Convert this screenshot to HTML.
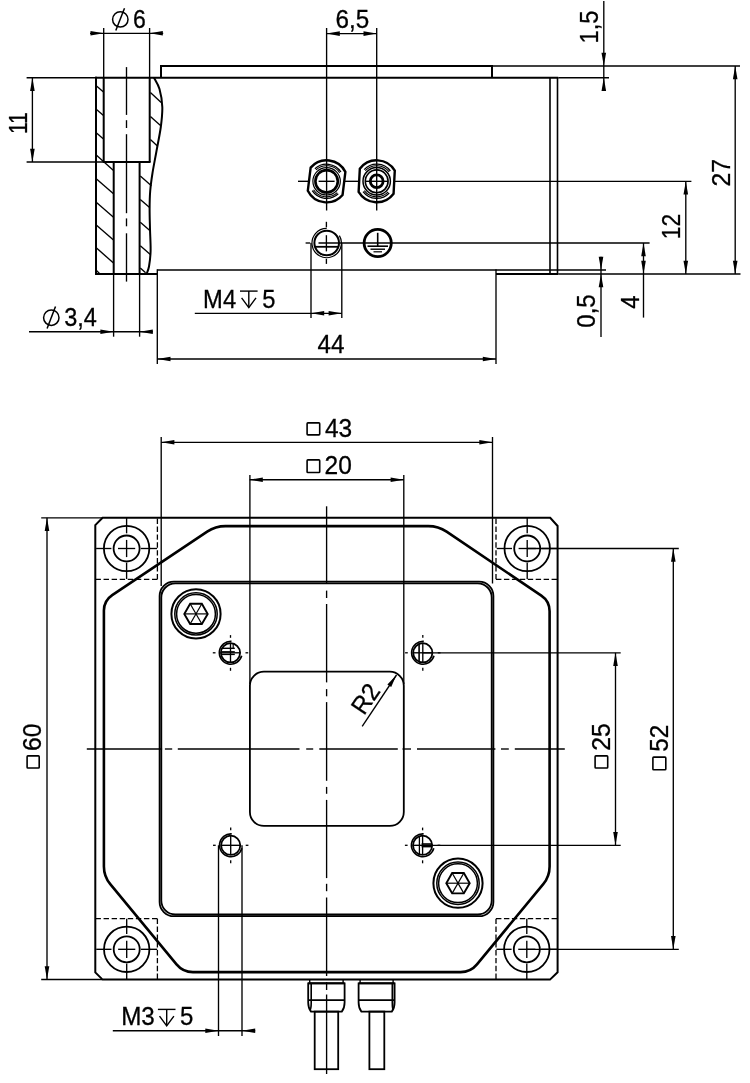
<!DOCTYPE html>
<html><head><meta charset="utf-8"><style>
html,body{margin:0;padding:0;background:#fff;width:750px;height:1083px;overflow:hidden}
svg{display:block;will-change:transform}
text{font-family:"Liberation Sans",sans-serif;fill:#000;stroke:#000;stroke-width:0.3px}
</style></head><body>
<svg width="750" height="1083" viewBox="0 0 750 1083" stroke="#000" stroke-linecap="butt">
<path d="M161,77.7V66H492V77.7" stroke-width="2" fill="none"/>
<line x1="95.1" y1="77.7" x2="558.3" y2="77.7" stroke-width="2"/>
<line x1="558.3" y1="77.7" x2="609" y2="77.7" stroke-width="1.35"/>
<line x1="492" y1="66" x2="740" y2="66" stroke-width="1.35"/>
<line x1="96" y1="76.8" x2="96" y2="274.8" stroke-width="2"/>
<line x1="95.1" y1="274" x2="157.3" y2="274" stroke-width="2"/>
<line x1="103.7" y1="77.7" x2="103.7" y2="162" stroke-width="2"/>
<line x1="149.7" y1="77.7" x2="149.7" y2="162" stroke-width="2"/>
<line x1="102.8" y1="162" x2="150.6" y2="162" stroke-width="2"/>
<line x1="113.7" y1="162" x2="113.7" y2="274" stroke-width="2"/>
<line x1="139.6" y1="162" x2="139.6" y2="274" stroke-width="2"/>
<path d="M154,77.7C154.92,79.58 158.12,84.12 159.5,89C160.88,93.88 162.08,100.67 162.3,107C162.52,113.33 161.77,119.67 160.8,127C159.83,134.33 157.88,143.33 156.5,151C155.12,158.67 153.55,166.33 152.5,173C151.45,179.67 150.68,185 150.2,191C149.72,197 149.63,202.67 149.6,209C149.57,215.33 149.83,222 150,229C150.17,236 150.77,244.75 150.6,251C150.43,257.25 149.68,262.67 149,266.5C148.32,270.33 146.92,272.75 146.5,274" stroke-width="2" fill="none"/>
<line x1="96.5" y1="86" x2="103.5" y2="92.1" stroke-width="1.35"/>
<line x1="96.5" y1="109.5" x2="103.5" y2="115.6" stroke-width="1.35"/>
<line x1="96.5" y1="133" x2="103.5" y2="139.1" stroke-width="1.35"/>
<line x1="96.5" y1="155.3" x2="113.5" y2="170.4" stroke-width="1.35"/>
<line x1="96.5" y1="179" x2="113.5" y2="193.8" stroke-width="1.35"/>
<line x1="96.5" y1="202.4" x2="113.5" y2="217.2" stroke-width="1.35"/>
<line x1="96.5" y1="225.3" x2="113.5" y2="240.1" stroke-width="1.35"/>
<line x1="96.5" y1="248.1" x2="113.5" y2="262.9" stroke-width="1.35"/>
<line x1="96.5" y1="270.6" x2="99.5" y2="273.4" stroke-width="1.35"/>
<line x1="150.4" y1="92.6" x2="161.2" y2="102.6" stroke-width="1.35"/>
<line x1="150.4" y1="116.6" x2="160.5" y2="125.6" stroke-width="1.35"/>
<line x1="150.4" y1="139.6" x2="157.4" y2="145.9" stroke-width="1.35"/>
<line x1="140.3" y1="176" x2="151.4" y2="185.66" stroke-width="1.35"/>
<line x1="140.3" y1="199.4" x2="149.6" y2="207.49" stroke-width="1.35"/>
<line x1="140.3" y1="222.3" x2="149.8" y2="230.56" stroke-width="1.35"/>
<line x1="140.3" y1="245.7" x2="150.6" y2="254.66" stroke-width="1.35"/>
<line x1="140.3" y1="267.9" x2="145.6" y2="272.8" stroke-width="1.35"/>
<line x1="126.5" y1="67.1" x2="126.5" y2="114.9" stroke-width="1.35"/>
<line x1="126.5" y1="120.2" x2="126.5" y2="128" stroke-width="1.35"/>
<line x1="126.5" y1="134.2" x2="126.5" y2="213.2" stroke-width="1.35"/>
<line x1="126.5" y1="218.4" x2="126.5" y2="226.3" stroke-width="1.35"/>
<line x1="126.5" y1="233.3" x2="126.5" y2="281.6" stroke-width="1.35"/>
<line x1="157.3" y1="270" x2="496" y2="270" stroke-width="1.5"/>
<line x1="157.3" y1="269.3" x2="157.3" y2="364" stroke-width="1.35"/>
<line x1="496" y1="269.3" x2="496" y2="364" stroke-width="1.35"/>
<line x1="496" y1="270" x2="606" y2="270" stroke-width="1.35"/>
<line x1="496" y1="274" x2="558.3" y2="274" stroke-width="2"/>
<line x1="558.3" y1="274" x2="740.5" y2="274" stroke-width="1.35"/>
<line x1="550" y1="77.7" x2="550" y2="274" stroke-width="1.6"/>
<line x1="557.5" y1="77.7" x2="557.5" y2="274" stroke-width="1.6"/>
<line x1="603.8" y1="1" x2="603.8" y2="91" stroke-width="1.35"/>
<path d="M603.8,66L606.1,52.8L601.5,52.8Z" fill="#000" stroke="none"/>
<path d="M603.8,77.7L601.5,90.9L606.1,90.9Z" fill="#000" stroke="none"/>
<text x="0" y="0" font-size="25" transform="translate(597.63,43.46) rotate(-90) scale(0.95,1)">1,5</text>
<line x1="735.2" y1="66" x2="735.2" y2="274" stroke-width="1.35"/>
<path d="M735.2,66L732.9,79.2L737.5,79.2Z" fill="#000" stroke="none"/>
<path d="M735.2,274L737.5,260.8L732.9,260.8Z" fill="#000" stroke="none"/>
<text x="0" y="0" font-size="25" transform="translate(729.68,186.5) rotate(-90) scale(0.99,1)">27</text>
<line x1="685.8" y1="181.3" x2="685.8" y2="274" stroke-width="1.35"/>
<path d="M685.8,181.3L683.5,194.5L688.1,194.5Z" fill="#000" stroke="none"/>
<path d="M685.8,274L688.1,260.8L683.5,260.8Z" fill="#000" stroke="none"/>
<text x="0" y="0" font-size="25" transform="translate(679.93,239.18) rotate(-90) scale(0.91,1)">12</text>
<line x1="643.5" y1="243" x2="643.5" y2="317.6" stroke-width="1.35"/>
<path d="M643.5,243L641.2,256.2L645.8,256.2Z" fill="#000" stroke="none"/>
<path d="M643.5,274L645.8,260.8L641.2,260.8Z" fill="#000" stroke="none"/>
<text x="0" y="0" font-size="25" transform="translate(638.6,308.8) rotate(-90) scale(0.95,1)">4</text>
<line x1="305.6" y1="243" x2="310.2" y2="243" stroke-width="1.35"/>
<line x1="318.5" y1="243" x2="649.6" y2="243" stroke-width="1.35"/>
<line x1="601" y1="256.8" x2="601" y2="337" stroke-width="1.35"/>
<path d="M601,270L603.3,256.8L598.7,256.8Z" fill="#000" stroke="none"/>
<path d="M601,274L598.7,287.2L603.3,287.2Z" fill="#000" stroke="none"/>
<text x="0" y="0" font-size="25" transform="translate(594.86,327.69) rotate(-90) scale(0.96,1)">0,5</text>
<line x1="32.4" y1="77.7" x2="32.4" y2="162" stroke-width="1.35"/>
<path d="M32.4,77.7L30.1,90.9L34.7,90.9Z" fill="#000" stroke="none"/>
<path d="M32.4,162L34.7,148.8L30.1,148.8Z" fill="#000" stroke="none"/>
<line x1="26.6" y1="77.7" x2="95.1" y2="77.7" stroke-width="1.35"/>
<line x1="26.6" y1="162" x2="103.7" y2="162" stroke-width="1.35"/>
<text x="0" y="0" font-size="25" transform="translate(26.5,134.11) rotate(-90) scale(0.85,1)">11</text>
<line x1="103.7" y1="28" x2="103.7" y2="77.7" stroke-width="1.35"/>
<line x1="149.6" y1="28" x2="149.6" y2="77.7" stroke-width="1.35"/>
<line x1="90" y1="33.3" x2="163.2" y2="33.3" stroke-width="1.35"/>
<path d="M103.7,33.3L90.5,31L90.5,35.6Z" fill="#000" stroke="none"/>
<path d="M149.6,33.3L162.8,35.6L162.8,31Z" fill="#000" stroke="none"/>
<circle cx="120.3" cy="19.4" r="7.7" stroke-width="1.5" fill="none"/>
<line x1="115.8" y1="30.5" x2="124.5" y2="8.3" stroke-width="1.5"/>
<text x="0" y="0" font-size="25" transform="translate(132.88,27.56) scale(0.92,1)">6</text>
<line x1="326.6" y1="28" x2="326.6" y2="210.5" stroke-width="1.35"/>
<line x1="376.7" y1="28" x2="376.7" y2="210.5" stroke-width="1.35"/>
<line x1="326.6" y1="33.6" x2="376.7" y2="33.6" stroke-width="1.35"/>
<path d="M326.6,33.6L339.8,35.9L339.8,31.3Z" fill="#000" stroke="none"/>
<path d="M376.7,33.6L363.5,31.3L363.5,35.9Z" fill="#000" stroke="none"/>
<text x="0" y="0" font-size="25" transform="translate(335.62,27.56) scale(0.97,1)">6,5</text>
<line x1="113.6" y1="274" x2="113.6" y2="336.7" stroke-width="1.35"/>
<line x1="139.6" y1="274" x2="139.6" y2="336.7" stroke-width="1.35"/>
<line x1="29" y1="331.7" x2="152.8" y2="331.7" stroke-width="1.35"/>
<path d="M113.6,331.7L100.4,329.4L100.4,334Z" fill="#000" stroke="none"/>
<path d="M139.6,331.7L152.8,334L152.8,329.4Z" fill="#000" stroke="none"/>
<circle cx="51.3" cy="317.7" r="7.7" stroke-width="1.5" fill="none"/>
<line x1="47.1" y1="328.5" x2="55.5" y2="306.5" stroke-width="1.5"/>
<text x="0" y="0" font-size="25" transform="translate(64.25,325.86) scale(0.94,1)">3,4</text>
<line x1="311" y1="243" x2="311" y2="318" stroke-width="1.35"/>
<line x1="341.8" y1="243" x2="341.8" y2="318" stroke-width="1.35"/>
<line x1="194.8" y1="313.3" x2="341.8" y2="313.3" stroke-width="1.35"/>
<path d="M311,313.3L324.2,315.6L324.2,311Z" fill="#000" stroke="none"/>
<path d="M341.8,313.3L328.6,311L328.6,315.6Z" fill="#000" stroke="none"/>
<text x="0" y="0" font-size="25" transform="translate(203.1,307.7) scale(0.95,1)">M4</text>
<line x1="240" y1="291.1" x2="257.6" y2="291.1" stroke-width="1.4"/>
<line x1="248.8" y1="291.1" x2="248.8" y2="307.5" stroke-width="1.4"/>
<path d="M241.6,297.8L248.8,307.6L256,297.8" stroke-width="1.4" fill="none"/>
<text x="0" y="0" font-size="25" transform="translate(262.2,307.58) scale(0.95,1)">5</text>
<line x1="157.3" y1="359" x2="496" y2="359" stroke-width="1.35"/>
<path d="M157.3,359L170.5,361.3L170.5,356.7Z" fill="#000" stroke="none"/>
<path d="M496,359L482.8,356.7L482.8,361.3Z" fill="#000" stroke="none"/>
<text x="0" y="0" font-size="25" transform="translate(317.5,353.25) scale(0.97,1)">44</text>
<path d="M309.1,169.69A21,21 0 0 1 344.1,169.69L344.1,192.91A21,21 0 0 1 309.1,192.91Z" stroke-width="2.4" fill="none" transform="rotate(7,326.6,181.3)"/>
<path d="M313.5,170.31A17.1,17.1 0 0 1 339.7,170.31" stroke-width="1.3" fill="none" transform="rotate(7,326.6,181.3)"/>
<path d="M339.7,192.29A17.1,17.1 0 0 1 313.5,192.29" stroke-width="1.3" fill="none" transform="rotate(7,326.6,181.3)"/>
<path d="M314.65,171.27A15.6,15.6 0 0 1 338.55,171.27" stroke-width="1.1" fill="none" transform="rotate(7,326.6,181.3)"/>
<path d="M338.55,191.33A15.6,15.6 0 0 1 314.65,191.33" stroke-width="1.1" fill="none" transform="rotate(7,326.6,181.3)"/>
<circle cx="326.6" cy="181.3" r="13.7" stroke-width="1.2" fill="none"/>
<circle cx="326.6" cy="181.3" r="11.2" stroke-width="2.6" fill="none"/>
<line x1="318.6" y1="181.3" x2="334.6" y2="181.3" stroke-width="1.35"/>
<path d="M359.2,169.69A21,21 0 0 1 394.2,169.69L394.2,192.91A21,21 0 0 1 359.2,192.91Z" stroke-width="2.4" fill="none" transform="rotate(3,376.7,181.3)"/>
<path d="M363.6,170.31A17.1,17.1 0 0 1 389.8,170.31" stroke-width="1.3" fill="none" transform="rotate(3,376.7,181.3)"/>
<path d="M389.8,192.29A17.1,17.1 0 0 1 363.6,192.29" stroke-width="1.3" fill="none" transform="rotate(3,376.7,181.3)"/>
<path d="M364.75,171.27A15.6,15.6 0 0 1 388.65,171.27" stroke-width="1.1" fill="none" transform="rotate(3,376.7,181.3)"/>
<path d="M388.65,191.33A15.6,15.6 0 0 1 364.75,191.33" stroke-width="1.1" fill="none" transform="rotate(3,376.7,181.3)"/>
<circle cx="376.7" cy="181.3" r="13.7" stroke-width="1.5" fill="none"/>
<circle cx="376.7" cy="181.3" r="11.4" stroke-width="1.6" fill="none"/>
<circle cx="376.7" cy="181.3" r="6.4" stroke-width="2.8" fill="none"/>
<line x1="365.3" y1="181.3" x2="388.1" y2="181.3" stroke-width="1.35"/>
<line x1="298" y1="181.3" x2="309.2" y2="181.3" stroke-width="1.35"/>
<line x1="344" y1="181.3" x2="359.2" y2="181.3" stroke-width="1.35"/>
<line x1="394.2" y1="181.3" x2="691.4" y2="181.3" stroke-width="1.35"/>
<circle cx="326.7" cy="243" r="12.3" stroke-width="2" fill="none"/>
<path d="M326.7,228.3A14.7,14.7 0 1 0 339.4,235.6" stroke-width="1.2" fill="none"/>
<line x1="326.4" y1="221.8" x2="326.4" y2="227.4" stroke-width="1.35"/>
<line x1="326.4" y1="235.2" x2="326.4" y2="251.4" stroke-width="1.35"/>
<line x1="326.4" y1="258.8" x2="326.4" y2="263.9" stroke-width="1.35"/>
<line x1="314.9" y1="246.8" x2="338.4" y2="246.8" stroke-width="1.8"/>
<circle cx="377.7" cy="243" r="13.6" stroke-width="2.8" fill="none"/>
<line x1="377.7" y1="232.8" x2="377.7" y2="246" stroke-width="1.6"/>
<line x1="367.5" y1="246.2" x2="388" y2="246.2" stroke-width="1.6"/>
<line x1="370.5" y1="249.2" x2="385" y2="249.2" stroke-width="1.4"/>
<line x1="373.5" y1="251.8" x2="382" y2="251.8" stroke-width="1.2"/>
<line x1="161.2" y1="437" x2="161.2" y2="586" stroke-width="1.35"/>
<line x1="492.5" y1="437" x2="492.5" y2="583.5" stroke-width="1.35"/>
<line x1="161.2" y1="442.3" x2="492.5" y2="442.3" stroke-width="1.35"/>
<path d="M161.2,442.3L174.4,444.6L174.4,440Z" fill="#000" stroke="none"/>
<path d="M492.5,442.3L479.3,440L479.3,444.6Z" fill="#000" stroke="none"/>
<rect x="307.1" y="422.9" width="12.6" height="12" fill="none" stroke-width="1.6" rx="0.8"/>
<text x="0" y="0" font-size="25" transform="translate(324.89,437.21) scale(0.98,1)">43</text>
<line x1="249.9" y1="475" x2="249.9" y2="684" stroke-width="1.35"/>
<line x1="403.8" y1="475" x2="403.8" y2="684" stroke-width="1.35"/>
<line x1="249.6" y1="479.7" x2="403.8" y2="479.7" stroke-width="1.35"/>
<path d="M249.6,479.7L262.8,482L262.8,477.4Z" fill="#000" stroke="none"/>
<path d="M403.8,479.7L390.6,477.4L390.6,482Z" fill="#000" stroke="none"/>
<rect x="307.1" y="459.9" width="12.6" height="12.6" fill="none" stroke-width="1.6" rx="0.8"/>
<text x="0" y="0" font-size="25" transform="translate(324.62,474.41) scale(0.98,1)">20</text>
<line x1="41.2" y1="517.8" x2="103" y2="517.8" stroke-width="1.35"/>
<line x1="41.2" y1="979.5" x2="102" y2="979.5" stroke-width="1.35"/>
<line x1="47" y1="517.8" x2="47" y2="979.5" stroke-width="1.35"/>
<path d="M47,517.8L44.7,531L49.3,531Z" fill="#000" stroke="none"/>
<path d="M47,979.5L49.3,966.3L44.7,966.3Z" fill="#000" stroke="none"/>
<rect x="27.1" y="755.9" width="12.1" height="12.1" fill="none" stroke-width="1.6" rx="0.8"/>
<text x="0" y="0" font-size="25" transform="translate(41.36,750.91) rotate(-90) scale(0.99,1)">60</text>
<path d="M102.6,517.8H550.2L557.6,526V972.3L550,979.6H102.6L95.3,972.4V525.1Z" stroke-width="2" fill="none"/>
<path d="M103.9,610.6Q103.9,600.6 112.22,595.05L207.18,531.65Q215.5,526.1 225.5,526.1L428.3,526.1Q438.3,526.1 446.59,531.69L541.31,595.61Q549.6,601.2 549.6,611.2L549.6,866.4Q549.6,876.4 543.23,884.11L476.97,964.39Q470.6,972.1 460.6,972.1L192.9,972.1Q182.9,972.1 176.53,964.39L110.27,884.11Q103.9,876.4 103.9,866.4Z" stroke-width="2.6" fill="none"/>
<rect x="161.3" y="583.4" width="330.4" height="331.1" rx="14" fill="none" stroke-width="1.8"/>
<rect x="159.6" y="581.7" width="333.8" height="334.5" rx="14.3" fill="none" stroke-width="1.8"/>
<rect x="249.9" y="671.7" width="153.9" height="154.2" rx="14" fill="none" stroke-width="1.8"/>
<line x1="362.2" y1="726.3" x2="396.5" y2="675" stroke-width="1.35"/>
<path d="M396.5,675L387.36,684.52L391.18,687.08Z" fill="#000" stroke="none"/>
<text x="0" y="0" font-size="25" transform="translate(365.65,698.35) rotate(-56) translate(-15.72,8.73) scale(0.96,1)">R2</text>
<circle cx="126.6" cy="548.5" r="22.7" stroke-width="1.8" fill="none"/>
<circle cx="126.6" cy="548.5" r="13" stroke-width="1.8" fill="none"/>
<line x1="96.1" y1="548.5" x2="111.4" y2="548.5" stroke-width="1.35"/>
<line x1="126.6" y1="518" x2="126.6" y2="533.3" stroke-width="1.35"/>
<line x1="118" y1="548.5" x2="135.2" y2="548.5" stroke-width="1.35"/>
<line x1="126.6" y1="539.9" x2="126.6" y2="557.1" stroke-width="1.35"/>
<line x1="140.8" y1="548.5" x2="157.1" y2="548.5" stroke-width="1.35"/>
<line x1="126.6" y1="562.7" x2="126.6" y2="579" stroke-width="1.35"/>
<circle cx="527.2" cy="548.5" r="22.7" stroke-width="1.8" fill="none"/>
<circle cx="527.2" cy="548.5" r="13" stroke-width="1.8" fill="none"/>
<line x1="496.7" y1="548.5" x2="512" y2="548.5" stroke-width="1.35"/>
<line x1="527.2" y1="518" x2="527.2" y2="533.3" stroke-width="1.35"/>
<line x1="518.6" y1="548.5" x2="535.8" y2="548.5" stroke-width="1.35"/>
<line x1="527.2" y1="539.9" x2="527.2" y2="557.1" stroke-width="1.35"/>
<line x1="541.4" y1="548.5" x2="557.7" y2="548.5" stroke-width="1.35"/>
<line x1="527.2" y1="562.7" x2="527.2" y2="579" stroke-width="1.35"/>
<circle cx="126.7" cy="949.3" r="22.7" stroke-width="1.8" fill="none"/>
<circle cx="126.7" cy="949.3" r="13" stroke-width="1.8" fill="none"/>
<line x1="96.2" y1="949.3" x2="111.5" y2="949.3" stroke-width="1.35"/>
<line x1="126.7" y1="918.8" x2="126.7" y2="934.1" stroke-width="1.35"/>
<line x1="118.1" y1="949.3" x2="135.3" y2="949.3" stroke-width="1.35"/>
<line x1="126.7" y1="940.7" x2="126.7" y2="957.9" stroke-width="1.35"/>
<line x1="140.9" y1="949.3" x2="157.2" y2="949.3" stroke-width="1.35"/>
<line x1="126.7" y1="963.5" x2="126.7" y2="979.8" stroke-width="1.35"/>
<circle cx="526.8" cy="949.3" r="22.7" stroke-width="1.8" fill="none"/>
<circle cx="526.8" cy="949.3" r="13" stroke-width="1.8" fill="none"/>
<line x1="496.3" y1="949.3" x2="511.6" y2="949.3" stroke-width="1.35"/>
<line x1="526.8" y1="918.8" x2="526.8" y2="934.1" stroke-width="1.35"/>
<line x1="518.2" y1="949.3" x2="535.4" y2="949.3" stroke-width="1.35"/>
<line x1="526.8" y1="940.7" x2="526.8" y2="957.9" stroke-width="1.35"/>
<line x1="541" y1="949.3" x2="557.3" y2="949.3" stroke-width="1.35"/>
<line x1="526.8" y1="963.5" x2="526.8" y2="979.8" stroke-width="1.35"/>
<line x1="157.4" y1="518.6" x2="157.4" y2="579.3" stroke-width="1.3" stroke-dasharray="5.4 2.5"/>
<line x1="95.5" y1="579.3" x2="157.4" y2="579.3" stroke-width="1.3" stroke-dasharray="5.4 2.67"/>
<line x1="496" y1="518.6" x2="496" y2="579.3" stroke-width="1.3" stroke-dasharray="5.4 2.5"/>
<line x1="496" y1="579.3" x2="557" y2="579.3" stroke-width="1.3" stroke-dasharray="5.4 2.54"/>
<line x1="95.5" y1="918.7" x2="157.4" y2="918.7" stroke-width="1.3" stroke-dasharray="5.4 2.67"/>
<line x1="157.4" y1="918.7" x2="157.4" y2="979" stroke-width="1.3" stroke-dasharray="5.4 2.44"/>
<line x1="496" y1="918.7" x2="557" y2="918.7" stroke-width="1.3" stroke-dasharray="5.4 2.54"/>
<line x1="496" y1="918.7" x2="496" y2="979" stroke-width="1.3" stroke-dasharray="5.4 2.44"/>
<circle cx="196" cy="613.9" r="24.6" stroke-width="2" fill="none"/>
<circle cx="196" cy="613.9" r="21.2" stroke-width="1.5" fill="none"/>
<circle cx="196" cy="613.9" r="19.4" stroke-width="1.5" fill="none"/>
<path d="M207.7,613.9L201.85,624.03L190.15,624.03L184.3,613.9L190.15,603.77L201.85,603.77Z" stroke-width="1.9" fill="none"/>
<line x1="207.7" y1="613.9" x2="184.3" y2="613.9" stroke-width="1.2"/>
<line x1="201.85" y1="624.03" x2="190.15" y2="603.77" stroke-width="1.2"/>
<line x1="190.15" y1="624.03" x2="201.85" y2="603.77" stroke-width="1.2"/>
<circle cx="458" cy="883.2" r="24.6" stroke-width="2" fill="none"/>
<circle cx="458" cy="883.2" r="21.2" stroke-width="1.5" fill="none"/>
<circle cx="458" cy="883.2" r="19.4" stroke-width="1.5" fill="none"/>
<path d="M469.7,883.2L463.85,893.33L452.15,893.33L446.3,883.2L452.15,873.07L463.85,873.07Z" stroke-width="1.9" fill="none"/>
<line x1="469.7" y1="883.2" x2="446.3" y2="883.2" stroke-width="1.2"/>
<line x1="463.85" y1="893.33" x2="452.15" y2="873.07" stroke-width="1.2"/>
<line x1="452.15" y1="893.33" x2="463.85" y2="873.07" stroke-width="1.2"/>
<circle cx="230.5" cy="652.8" r="9.6" stroke-width="1.8" fill="none"/>
<path d="M231.5,641.4A11.4,11.4 0 1 0 241.7,655.8" stroke-width="1.6" fill="none"/>
<line x1="230.5" y1="635.1" x2="230.5" y2="637.8" stroke-width="1.3"/>
<line x1="230.5" y1="667.8" x2="230.5" y2="670.8" stroke-width="1.3"/>
<line x1="212.8" y1="652.8" x2="215.5" y2="652.8" stroke-width="1.3"/>
<line x1="245.5" y1="652.8" x2="248.2" y2="652.8" stroke-width="1.3"/>
<line x1="230.5" y1="643.2" x2="230.5" y2="662.4" stroke-width="1.35"/>
<line x1="220.9" y1="652.8" x2="240.1" y2="652.8" stroke-width="1.35"/>
<line x1="221.5" y1="648.3" x2="234.8" y2="648.3" stroke-width="1.4"/>
<line x1="221.5" y1="651.8" x2="234.8" y2="651.8" stroke-width="1.4"/>
<line x1="221.5" y1="654.4" x2="234.8" y2="654.4" stroke-width="1.4"/>
<line x1="233.2" y1="643.8" x2="233.2" y2="648.3" stroke-width="1.2"/>
<circle cx="422.8" cy="652.8" r="9.6" stroke-width="1.8" fill="none"/>
<path d="M423.8,641.4A11.4,11.4 0 1 0 434,655.8" stroke-width="1.6" fill="none"/>
<line x1="422.8" y1="635.1" x2="422.8" y2="637.8" stroke-width="1.3"/>
<line x1="422.8" y1="667.8" x2="422.8" y2="670.8" stroke-width="1.3"/>
<line x1="405.1" y1="652.8" x2="407.8" y2="652.8" stroke-width="1.3"/>
<line x1="437.8" y1="652.8" x2="440.5" y2="652.8" stroke-width="1.3"/>
<line x1="422.8" y1="643.2" x2="422.8" y2="662.4" stroke-width="1.35"/>
<line x1="413.2" y1="652.8" x2="432.4" y2="652.8" stroke-width="1.35"/>
<line x1="419.1" y1="643.8" x2="419.1" y2="661.8" stroke-width="1.6"/>
<circle cx="230.7" cy="845.3" r="9.6" stroke-width="1.8" fill="none"/>
<path d="M231.7,833.9A11.4,11.4 0 1 0 241.9,848.3" stroke-width="1.6" fill="none"/>
<line x1="230.7" y1="827.6" x2="230.7" y2="830.3" stroke-width="1.3"/>
<line x1="230.7" y1="860.3" x2="230.7" y2="863.3" stroke-width="1.3"/>
<line x1="213" y1="845.3" x2="215.7" y2="845.3" stroke-width="1.3"/>
<line x1="245.7" y1="845.3" x2="248.4" y2="845.3" stroke-width="1.3"/>
<line x1="230.7" y1="835.7" x2="230.7" y2="854.9" stroke-width="1.35"/>
<line x1="221.1" y1="845.3" x2="240.3" y2="845.3" stroke-width="1.35"/>
<circle cx="422.6" cy="845.3" r="9.6" stroke-width="1.8" fill="none"/>
<path d="M423.6,833.9A11.4,11.4 0 1 0 433.8,848.3" stroke-width="1.6" fill="none"/>
<line x1="422.6" y1="827.6" x2="422.6" y2="830.3" stroke-width="1.3"/>
<line x1="422.6" y1="860.3" x2="422.6" y2="863.3" stroke-width="1.3"/>
<line x1="404.9" y1="845.3" x2="407.6" y2="845.3" stroke-width="1.3"/>
<line x1="437.6" y1="845.3" x2="440.3" y2="845.3" stroke-width="1.3"/>
<line x1="422.6" y1="835.7" x2="422.6" y2="854.9" stroke-width="1.35"/>
<line x1="413" y1="845.3" x2="432.2" y2="845.3" stroke-width="1.35"/>
<line x1="421.6" y1="844" x2="432.1" y2="844" stroke-width="1.6"/>
<line x1="421.6" y1="846.6" x2="432.1" y2="846.6" stroke-width="1.6"/>
<line x1="419.4" y1="836.3" x2="419.4" y2="854.3" stroke-width="1.3"/>
<line x1="527.2" y1="548.5" x2="678.8" y2="548.5" stroke-width="1.35"/>
<line x1="422.8" y1="652.8" x2="620.7" y2="652.8" stroke-width="1.35"/>
<line x1="422.6" y1="845.3" x2="620.7" y2="845.3" stroke-width="1.35"/>
<line x1="526.8" y1="949.3" x2="678.8" y2="949.3" stroke-width="1.35"/>
<line x1="615.5" y1="652.8" x2="615.5" y2="845.3" stroke-width="1.35"/>
<path d="M615.5,652.8L613.2,666L617.8,666Z" fill="#000" stroke="none"/>
<path d="M615.5,845.3L617.8,832.1L613.2,832.1Z" fill="#000" stroke="none"/>
<rect x="595.1" y="755.9" width="12.6" height="12.1" fill="none" stroke-width="1.6" rx="0.8"/>
<text x="0" y="0" font-size="25" transform="translate(609.91,750.8) rotate(-90) scale(0.99,1)">25</text>
<line x1="673.3" y1="548.5" x2="673.3" y2="949.3" stroke-width="1.35"/>
<path d="M673.3,548.5L671,561.7L675.6,561.7Z" fill="#000" stroke="none"/>
<path d="M673.3,949.3L675.6,936.1L671,936.1Z" fill="#000" stroke="none"/>
<rect x="652.9" y="757.1" width="12.9" height="12.6" fill="none" stroke-width="1.6" rx="0.8"/>
<text x="0" y="0" font-size="25" transform="translate(668.01,751.72) rotate(-90) scale(0.97,1)">52</text>
<line x1="218.5" y1="845.3" x2="218.5" y2="1036" stroke-width="1.35"/>
<line x1="242" y1="845.3" x2="242" y2="1036" stroke-width="1.35"/>
<line x1="112.8" y1="1030.7" x2="255.2" y2="1030.7" stroke-width="1.35"/>
<path d="M218.5,1030.7L205.3,1028.4L205.3,1033Z" fill="#000" stroke="none"/>
<path d="M242,1030.7L255.2,1033L255.2,1028.4Z" fill="#000" stroke="none"/>
<text x="0" y="0" font-size="25" transform="translate(121.16,1025.31) scale(0.97,1)">M3</text>
<line x1="157.9" y1="1009.4" x2="175.5" y2="1009.4" stroke-width="1.4"/>
<line x1="166.7" y1="1009.4" x2="166.7" y2="1025.2" stroke-width="1.4"/>
<path d="M159.5,1016.1L166.7,1025.8L173.9,1016.1" stroke-width="1.4" fill="none"/>
<text x="0" y="0" font-size="25" transform="translate(180.09,1025.18) scale(0.96,1)">5</text>
<line x1="326.6" y1="506.3" x2="326.6" y2="584" stroke-width="1.35"/>
<line x1="326.6" y1="590.6" x2="326.6" y2="598" stroke-width="1.35"/>
<line x1="326.6" y1="604" x2="326.6" y2="682.4" stroke-width="1.35"/>
<line x1="326.6" y1="689.1" x2="326.6" y2="696.3" stroke-width="1.35"/>
<line x1="326.6" y1="702.1" x2="326.6" y2="780.8" stroke-width="1.35"/>
<line x1="326.6" y1="786.9" x2="326.6" y2="793.8" stroke-width="1.35"/>
<line x1="326.6" y1="799.9" x2="326.6" y2="878.1" stroke-width="1.35"/>
<line x1="326.6" y1="883.8" x2="326.6" y2="891.2" stroke-width="1.35"/>
<line x1="326.6" y1="897.5" x2="326.6" y2="976" stroke-width="1.35"/>
<line x1="326.6" y1="982" x2="326.6" y2="990" stroke-width="1.35"/>
<line x1="326.6" y1="994.5" x2="326.6" y2="1074" stroke-width="1.35"/>
<line x1="86.8" y1="749" x2="162.1" y2="749" stroke-width="1.35"/>
<line x1="164.9" y1="749" x2="172.2" y2="749" stroke-width="1.35"/>
<line x1="177.8" y1="749" x2="299.5" y2="749" stroke-width="1.35"/>
<line x1="306.2" y1="749" x2="313.2" y2="749" stroke-width="1.35"/>
<line x1="319.3" y1="749" x2="397.8" y2="749" stroke-width="1.35"/>
<line x1="402.5" y1="749" x2="411" y2="749" stroke-width="1.35"/>
<line x1="417" y1="749" x2="495.4" y2="749" stroke-width="1.35"/>
<line x1="501" y1="749" x2="508.8" y2="749" stroke-width="1.35"/>
<line x1="514.8" y1="749" x2="564.8" y2="749" stroke-width="1.35"/>
<path d="M308.2,983.3V1002.5C308.2,1007 309.7,1010 311,1011.6H341.8C343.1,1010 344.6,1007 344.6,1002.5V983.3Z" stroke-width="1.8" fill="none"/>
<line x1="309.7" y1="979.5" x2="309.7" y2="983.3" stroke-width="1.4"/>
<line x1="343.1" y1="979.5" x2="343.1" y2="983.3" stroke-width="1.4"/>
<line x1="308.2" y1="983.3" x2="344.6" y2="983.3" stroke-width="2"/>
<line x1="308.2" y1="1000.1" x2="344.6" y2="1000.1" stroke-width="1.8"/>
<path d="M311.2,983.3V1003Q311.2,1008.5 310,1010" stroke-width="1.6" fill="none"/>
<rect x="314.7" y="1011.6" width="23.5" height="57.6" fill="none" stroke-width="1.8"/>
<path d="M358.6,983.3V1002.5C358.6,1007 360.1,1010 361.4,1011.6H391.8C393.1,1010 394.6,1007 394.6,1002.5V983.3Z" stroke-width="1.8" fill="none"/>
<line x1="360.1" y1="979.5" x2="360.1" y2="983.3" stroke-width="1.4"/>
<line x1="393.1" y1="979.5" x2="393.1" y2="983.3" stroke-width="1.4"/>
<line x1="358.6" y1="983.3" x2="394.6" y2="983.3" stroke-width="2"/>
<line x1="358.6" y1="1000.1" x2="394.6" y2="1000.1" stroke-width="1.8"/>
<path d="M392.4,983.3V1003Q392.4,1008.5 393.4,1010" stroke-width="1.8" fill="none"/>
<rect x="369.4" y="1011.6" width="14.9" height="57.6" fill="none" stroke-width="1.8"/>
</svg>
</body></html>
